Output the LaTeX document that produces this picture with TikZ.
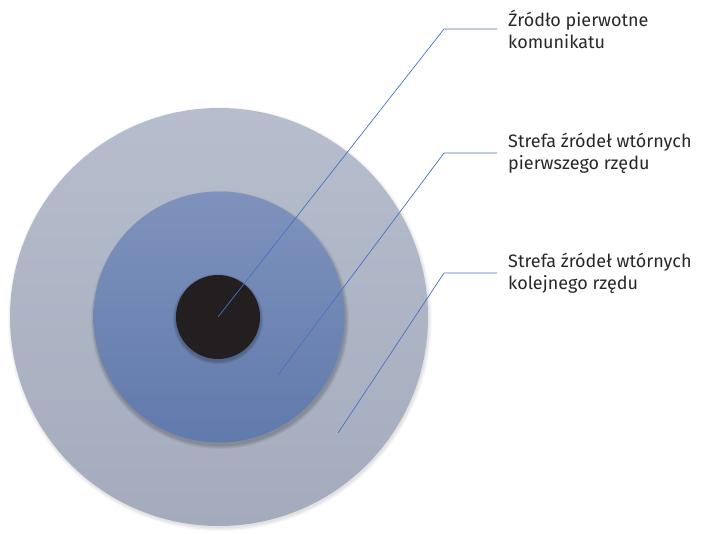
\documentclass[tikz,border=0pt]{standalone}
\usepackage{fontspec}
\setmainfont{Fira Sans}
\definecolor{OuterTop}{RGB}{182,189,205}
\definecolor{OuterBot}{RGB}{164,171,188}
\definecolor{MidTop}{RGB}{126,146,188}
\definecolor{MidBot}{RGB}{97,122,172}
\definecolor{CoreBlack}{RGB}{35,31,32}
\definecolor{LeaderBlue}{RGB}{68,114,196}
\definecolor{TextGray}{RGB}{40,40,40}
\usetikzlibrary{positioning,calc}

\begin{document}
\begin{tikzpicture}[x=1pt,y=-1pt,
  leader/.style={draw=LeaderBlue,line width=0.7pt},
  zone/.style={circle,inner sep=0pt,draw=none},
  lbl/.style={anchor=west,align=left,inner sep=0pt,text=TextGray,
    font=\fontsize{18}{22}\selectfont}]
\useasboundingbox (0,0) rectangle (701,533);
% soft shadows
\foreach \k in {1,...,5}{
  \fill[black,opacity=0.025] (220,319) circle ({208+\k*0.8});
}
\node[zone,minimum size=418pt,top color=OuterTop,bottom color=OuterBot] (outer) at (219,317) {};
\foreach \k in {1,...,5}{
  \fill[black,opacity=0.045] (220,320) circle ({125+\k*0.8});
}
\node[zone,minimum size=251pt,top color=MidTop,bottom color=MidBot] (middle) at (219,317) {};
\foreach \k in {1,...,4}{
  \fill[black,opacity=0.06] (218,319) circle ({42+\k*0.8});
}
\node[zone,minimum size=84pt,fill=CoreBlack] (core) at (218,317) {};
% labels
\node[lbl] (l1) at (508,29) {Źródło pierwotne\\komunikatu};
\node[lbl] (l2) at (508,153) {Strefa źródeł wtórnych\\pierwszego rzędu};
\node[lbl] (l3) at (508,273) {Strefa źródeł wtórnych\\kolejnego rzędu};
% leader lines
\coordinate (p1) at (218,317);
\coordinate (p2) at (278,375);
\coordinate (p3) at (338,433);
\coordinate (c1) at (444,29);
\coordinate (c2) at (444,153);
\coordinate (c3) at (444,273);
\draw[leader] (p1) -- (c1) -- ([xshift=-11pt]l1.west);
\draw[leader] (p2) -- (c2) -- ([xshift=-11pt]l2.west);
\draw[leader] (p3) -- (c3) -- ([xshift=-11pt]l3.west);
\end{tikzpicture}
\end{document}
